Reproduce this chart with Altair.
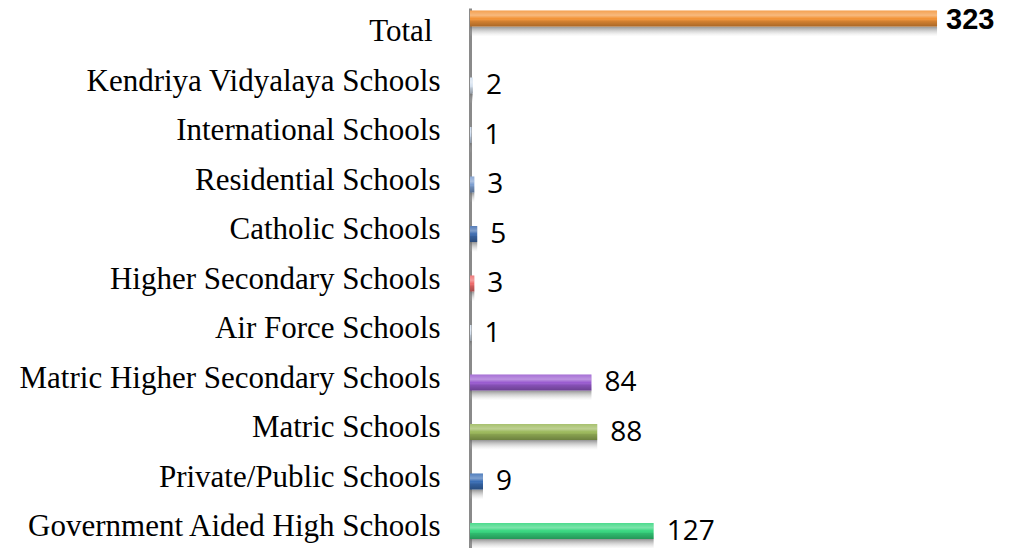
import altair as alt
import pandas as pd

categories = [
    "Total",
    "Kendriya Vidyalaya Schools",
    "International Schools",
    "Residential Schools",
    "Catholic Schools",
    "Higher Secondary Schools",
    "Air Force Schools",
    "Matric Higher Secondary Schools",
    "Matric Schools",
    "Private/Public Schools",
    "Government Aided High Schools",
]
values = [323, 2, 1, 3, 5, 3, 1, 84, 88, 9, 127]
colors = [
    "#F39438", "#D6E2F0", "#C9D9EE", "#7E9FD0", "#3F6CAF", "#EE6B6B",
    "#D3DFEE", "#9A5CD0", "#9BB85A", "#3A6EB5", "#35D67E",
]

df = pd.DataFrame({"cat": categories, "value": values})
df["is_total"] = df["cat"] == "Total"

x_enc = alt.X("value:Q", scale=alt.Scale(domain=[0, 370], nice=False), axis=None)
y_enc = alt.Y(
    "cat:N",
    sort=categories,
    scale=alt.Scale(type="point", domain=categories, padding=0.4545, align=0.622),
    title=None,
    axis=alt.Axis(
        domainColor="#8A8A8A",
        domainWidth=3,
        ticks=False,
        grid=False,
        labelFont="Liberation Serif",
        labelFontSize=31,
        labelColor="#000000",
        labelLimit=1000,
        labelAlign="right",
        labelBaseline="middle",
        labelOffset=-4,
        labelPadding={"condition": {"test": "datum.value === 'Total'", "value": 38}, "value": 30},
    ),
)

gloss = alt.LinearGradient(
    gradient="linear", x1=0, y1=0, x2=0, y2=1,
    stops=[
        alt.GradientStop(color="rgba(255,255,255,0.12)", offset=0),
        alt.GradientStop(color="rgba(255,255,255,0.35)", offset=0.3),
        alt.GradientStop(color="rgba(255,255,255,0.0)", offset=0.5),
        alt.GradientStop(color="rgba(0,0,0,0.12)", offset=0.65),
        alt.GradientStop(color="rgba(0,0,0,0.3)", offset=1),
    ],
)
shadow = alt.LinearGradient(
    gradient="linear", x1=0, y1=0, x2=0, y2=1,
    stops=[
        alt.GradientStop(color="rgba(110,110,110,0.75)", offset=0),
        alt.GradientStop(color="rgba(200,200,200,0.0)", offset=1),
    ],
)

color_enc = alt.Color("cat:N", scale=alt.Scale(domain=categories, range=colors), legend=None)


def layers(data, off, text_font, text_size, text_weight, dx, dy):
    base = alt.Chart(data)
    sh = base.mark_bar(size=10, yOffset=off + 13, color=shadow).encode(x=x_enc, y=y_enc)
    bar = base.mark_bar(size=16, yOffset=off).encode(x=x_enc, y=y_enc, color=color_enc)
    gl = base.mark_bar(size=16, yOffset=off, color=gloss).encode(x=x_enc, y=y_enc)
    txt = base.mark_text(
        align="left", baseline="middle", dx=dx, dy=dy, yOffset=off,
        font=text_font, fontSize=text_size, fontWeight=text_weight, color="#000000",
    ).encode(x=x_enc, y=y_enc, text=alt.Text("value:Q"))
    return [sh, bar, gl, txt]


df_total = df[df["is_total"]].drop(columns=["is_total"])
df_rest = df[~df["is_total"]].drop(columns=["is_total"])

chart = alt.layer(
    *layers(df_rest, 0, "Open Sans", 28, "normal", 13, 1),
    *layers(df_total, -17.5, "Liberation Sans", 29, "bold", 9, 2),
).properties(
    width=535,
    height=540,
    background="white",
    autosize=alt.AutoSizeParams(type="none"),
    padding={"left": 462, "top": 0, "right": 0, "bottom": 0},
).configure_view(stroke=None)

chart.save("out.html", embed_options={"renderer": "svg", "actions": False})
